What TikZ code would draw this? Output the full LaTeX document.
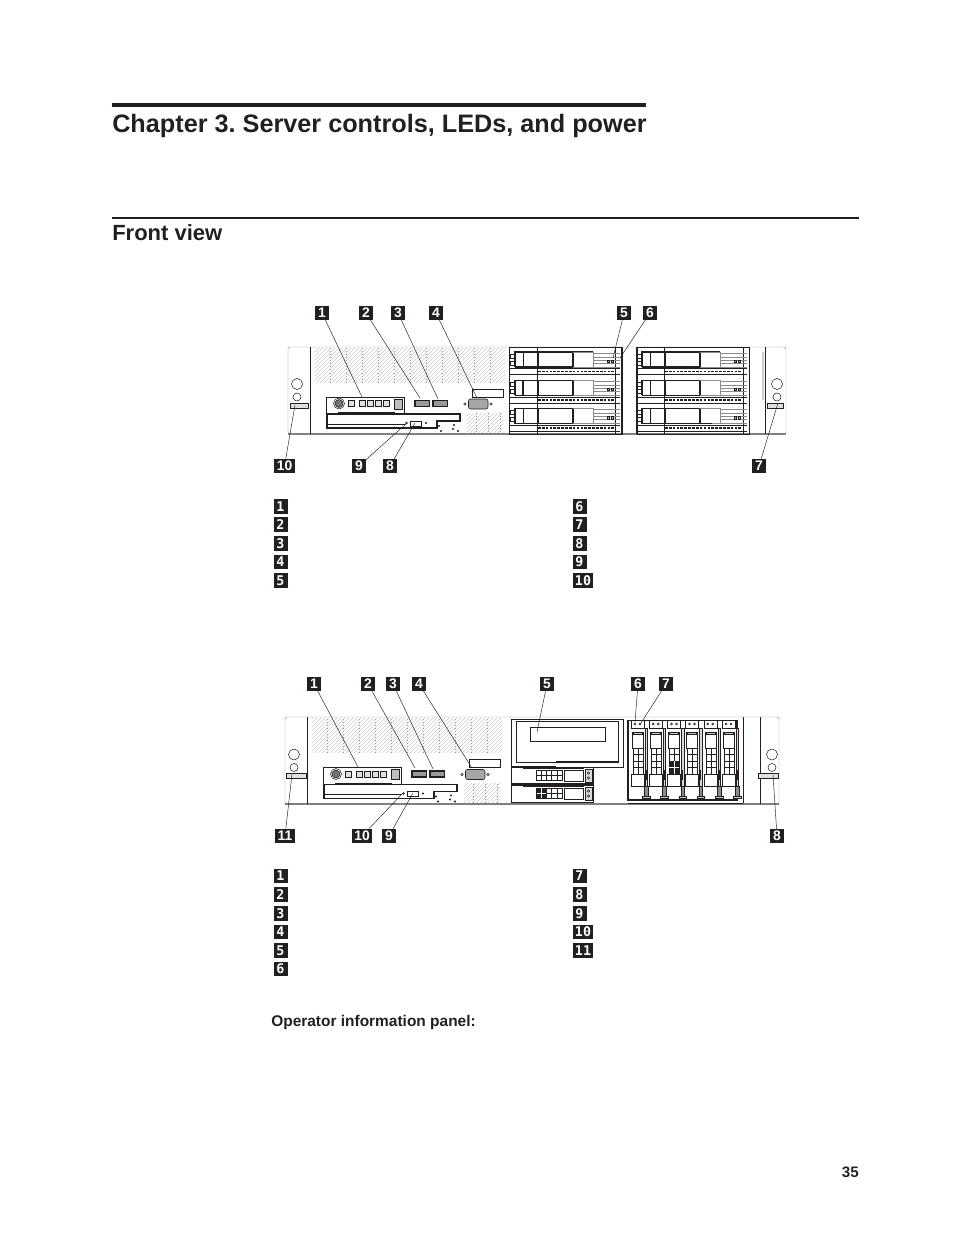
\documentclass[tikz,border=0pt]{standalone}
\usepackage{fontspec}
\setmainfont{Liberation Sans}
\newfontfamily\legendfont{DejaVu Sans Mono}
\usetikzlibrary{positioning,patterns}
\definecolor{ink}{HTML}{231F20}
\tikzset{callout/.style={fill=ink,text=white,inner xsep=2pt,inner ysep=0pt,minimum width=10pt,minimum height=10.4pt,font=\fontsize{10.4}{10}\selectfont\bfseries}}
\tikzset{legendbox/.style={fill=ink,text=white,inner xsep=1.6pt,inner ysep=0pt,minimum width=10.5pt,minimum height=11.2pt,font=\legendfont\fontsize{10}{11}\selectfont\bfseries}}
\tikzset{leader/.style={draw=ink,line width=0.35pt}}
\tikzset{part/.style={draw=ink,line width=0.4pt}}
\tikzset{faint/.style={draw=black!45,line width=0.35pt}}
\tikzset{heavy/.style={draw=ink,line width=0.9pt}}
\tikzset{hatched/.style={pattern=north east lines,pattern color=black!20}}

% left half of the chassis, written for the upper one
\newcommand{\leftfront}{
	\fill[hatched] (315,348)--(505,348)--(505,382)--(315,382)--cycle;
	\fill[hatched] (467,413) rectangle (503,432);
	\foreach \x in {330,346,...,500}
		\draw[black!40,dotted,line width=0.3pt] (\x,348)--(\x,382);
	\foreach \x in {476,488,500}
		\draw[black!40,dotted,line width=0.3pt] (\x,413)--(\x,432);
	% operator panel
	\draw[part] (326,413)--(326,397)--(404,397)--(404,413);
	\draw[heavy] (338,413)--(395,413);
	\draw[part,fill=black!55] (339,403.5) circle (4);
	\draw[part] (339,403.5) circle (5.5);
	\foreach \x in {348,359.5,367,375,383}
		\draw[part,fill=black!12] (\x,400.5) rectangle ++(6,6);
	\draw[part,fill=black!25] (394.5,399) rectangle (402,409);
	% USB and video
	\foreach \x in {415,433}
		\draw[heavy,fill=black!40] (\x,400.5) rectangle ++(14.5,6);
	\draw[part,rounded corners=1.5pt,fill=black!35] (468.5,399) rectangle (488,409);
	\draw[part] (472,389) rectangle (503,397);
	\foreach \x in {465,491}
		\draw[part] (\x,404) circle (1.2);
	% optical drive
	\draw[heavy] (327,414)--(460,414)--(460,421)--(437,421)--(437,428)--(327,428)--cycle;
	\draw[part] (327,424)--(405,424);
	\draw[part] (410.5,421) rectangle (421,426);
	\draw[part] (406.5,423) circle (1);
	\foreach \x/\y in {426/423,439/426,454/425,453/429,441/431,458/431}
		\draw[part] (\x,\y) circle (0.8);
}
% ear with the two round holes and the tab
\newcommand{\chassisear}[3]{
	\draw[part] (#1,384) circle (5.5);
	\draw[part] (#1,397) circle (4);
	\draw[part,fill=black!12] (#2,403) rectangle (#3,408);
}
% one hard disk drive lying flat
\newcommand{\hddrow}{
	\draw[heavy] (0,15)--(0,0)--(78,0);
	\draw[heavy] (0,15)--(58,15);
	\draw[part] (8,0) rectangle (23,15);
	\draw[heavy] (23,0)--(23,15) (58,0)--(58,15);
	\draw[faint] (58,0)--(78,0)--(78,15)--(58,15);
	\draw[part] (-5,2) rectangle (0,6);
	\draw[part] (-5,9) rectangle (0,13);
	\draw[part] (-5,16.5)--(105,16.5);
	\draw[part] (-5,22.5)--(105,22.5);
	\draw[ink,line width=1.2pt,dash pattern=on 2pt off 0.9pt] (23,19.5)--(100,19.5);
	\foreach \y in {1,5,8,11,15}
		\draw[faint] (78,\y)--(105,\y);
	\foreach \x in {92,96}
		\draw[part,fill=black!30] (\x,8) rectangle ++(2.4,2.4);
}
% one hard disk drive standing up
\newcommand{\hddbay}{
	\draw[part] (0,0) rectangle (13,8);
	\foreach \x in {4,9}
		\draw[part] (\x,4) circle (1);
	\draw[part] (1,12) rectangle (12,28);
	\draw[part,fill=black!25] (2,12) rectangle (11,14.5);
	\foreach \y in {28,34.5,41,47.5,54}
		\draw[part] (2,\y)--(12,\y);
	\foreach \x in {2,7,12}
		\draw[part] (\x,28)--(\x,54);
	\draw[part] (0,54) rectangle (13,66);
	\draw[part,fill=black!15] (14,8) rectangle (16.5,72);
	\draw[part,fill=black!45] (13.5,66)--(17,66)--(17,78)--(13.5,78)--cycle;
	\draw[part,fill=black!20] (11.5,76) rectangle (19,78);
	\draw[heavy] (15.2,50)--(15.2,60);
}

\begin{document}
\frenchspacing
\begin{tikzpicture}[x=0.75pt,y=-0.75pt,ink]
	\useasboundingbox (0,0) rectangle (954,1235);

	%% Page headings
	\fill[ink] (112,103) rectangle (646,106.5);
	\node[anchor=base west,inner sep=0pt,font=\fontsize{18.93}{20}\selectfont\bfseries] (chaptertitle) at (112,132) {Chapter 3. Server controls, LEDs, and power};
	\fill[ink] (112,217) rectangle (859,218.6);
	\node[anchor=base west,inner sep=0pt,font=\fontsize{16.5}{18}\selectfont\bfseries] (sectiontitle) at (112,240.5) {Front view};
	\node[anchor=base west,inner sep=0pt,font=\fontsize{11.6}{12}\selectfont\bfseries] (panellabel) at (271,1026) {Operator information panel:};
	\node[anchor=base east,inner sep=0pt,font=\fontsize{11.4}{12}\selectfont\bfseries] (pagenumber) at (859,1177) {35};

	%% Upper chassis
	\draw[faint,rounded corners=1.5pt] (310,347)--(288,347)--(288,434)--(786,434)--(786,347)--(310,347);
	\draw[black!50,line width=1pt] (288,434)--(786,434);
	\draw[part] (310,347)--(310,434) (765,347)--(765,434);
	\draw[black!20,line width=1pt] (763,352)--(763,400);
	\leftfront
	\chassisear{297}{290}{308}
	\chassisear{777}{767}{783}
	\draw[part] (509,347) rectangle (622,434);
	\draw[part] (637,347) rectangle (749,434);
	\draw[heavy] (622,347)--(622,434) (637,347)--(637,434);
	\draw[part] (537,347)--(537,434) (615,347)--(615,434) (664,347)--(664,434) (743,347)--(743,434);
	\foreach \x in {515,642}{
		\foreach \y in {352,380.3,408.7}{
			\begin{scope}[shift={(\x,\y)}]
				\hddrow
			\end{scope}
		}
	}
	\draw[heavy] (523,380.3)--(523,395.3);
	\draw[ink,line width=1.2pt] (650,423.5)--(712,423.5);

	%% Lower chassis
	\draw[faint,rounded corners=1.5pt] (307,717)--(285,717)--(285,804)--(779,804)--(779,717)--(307,717);
	\draw[black!50,line width=1pt] (285,804)--(779,804);
	\draw[part] (307,717)--(307,804) (760,717)--(760,804);
	\begin{scope}[shift={(-3,370.5)}]
		\leftfront
		\chassisear{297}{289}{309}
		\chassisear{775}{761}{781}
	\end{scope}
	% media enclosure
	\draw[part] (511,719) rectangle (623,767);
	\draw[part] (516,721) rectangle (618,762);
	\draw[part] (530,727) rectangle (605,741);
	\draw[heavy] (556,762)--(618,762);
	\draw[heavy] (511,767)--(556,767);
	% slim drives
	\foreach \y in {767,785}{
		\begin{scope}[shift={(511,\y)}]
			\draw[part] (0,0) rectangle (82,17);
			\draw[heavy] (12,1)--(73,1);
			\draw[part] (25,3) rectangle (51,13);
			\foreach \x in {30.2,35.4,40.6,45.8}
				\draw[part] (\x,3)--(\x,13);
			\draw[part] (25,8)--(51,8);
			\draw[part] (53,3) rectangle (72,14);
			\draw[part,fill=black!15] (74,2) rectangle (81,15);
			\foreach \b in {6,11}
				\draw[part] (77.5,\b) circle (1.2);
		\end{scope}
	}
	\draw[heavy] (511,784)--(593,784);
	\fill[ink] (537,788) rectangle (546,798);
	\draw[white,line width=0.4pt] (541.5,788)--(541.5,798) (537,793)--(546,793);
	% upright drive bays
	\draw[part] (628,720)--(737,720);
	\draw[heavy] (628,720)--(628,800)--(737,800)--(737,720);
	\draw[part] (628,803)--(743,803) (743,717)--(743,803);
	\foreach \x in {631,649.2,667.4,685.6,703.8,722}{
		\begin{scope}[shift={(\x,720)}]
			\hddbay
		\end{scope}
	}
	\fill[ink] (669.4,761) rectangle (679.4,774);
	\draw[white,line width=0.5pt] (674.4,761)--(674.4,774) (669.4,767.5)--(679.4,767.5);

	%% Callouts with leaders
	\foreach \n/\x/\y/\tx/\ty in {1/322/313/362/397, 2/366/313/420/398, 3/398/313/438/399, 4/436/313/477/398, 5/624/313/613/358, 6/650/313/620/358, 7/759/466/778/403, 8/390/466/415/423, 9/359/466/407/423, 10/284.5/466/295/405}{
		\node[callout] (upper\n) at (\x,\y) {\n};
		\coordinate (uppertip\n) at (\tx,\ty);
		\draw[leader] (upper\n)--(uppertip\n);
	}
	\foreach \n/\x/\y/\tx/\ty in {1/314/684/358/767, 2/368/684/415/768, 3/393/684/433/769, 4/419/684/472/768, 5/547/684/537/732, 6/638/684/635/722, 7/666/684/641/723, 8/777/836/773/775, 9/389/836/413/793, 10/362/836/403/793, 11/285/836/292/774}{
		\node[callout] (lower\n) at (\x,\y) {\n};
		\coordinate (lowertip\n) at (\tx,\ty);
		\draw[leader] (lower\n)--(lowertip\n);
	}

	%% Legend markers
	\foreach \n/\x/\y in {1/280.5/506.5, 2/280.5/524.5, 3/280.5/543.5, 4/280.5/562, 5/280.5/580.5, 6/579.5/506.5, 7/579.5/524.5, 8/579.5/543.5, 9/579.5/562, 10/583/580.5}
		\node[legendbox] (upperkey\n) at (\x,\y) {\n};
	\foreach \n/\x/\y in {1/280.5/876, 2/280.5/894.5, 3/280.5/913.5, 4/280.5/932, 5/280.5/950.5, 6/280.5/969, 7/579.5/876, 8/579.5/894.5, 9/579.5/913.5, 10/583/932, 11/583/950.5}
		\node[legendbox] (lowerkey\n) at (\x,\y) {\n};
\end{tikzpicture}
\end{document}
